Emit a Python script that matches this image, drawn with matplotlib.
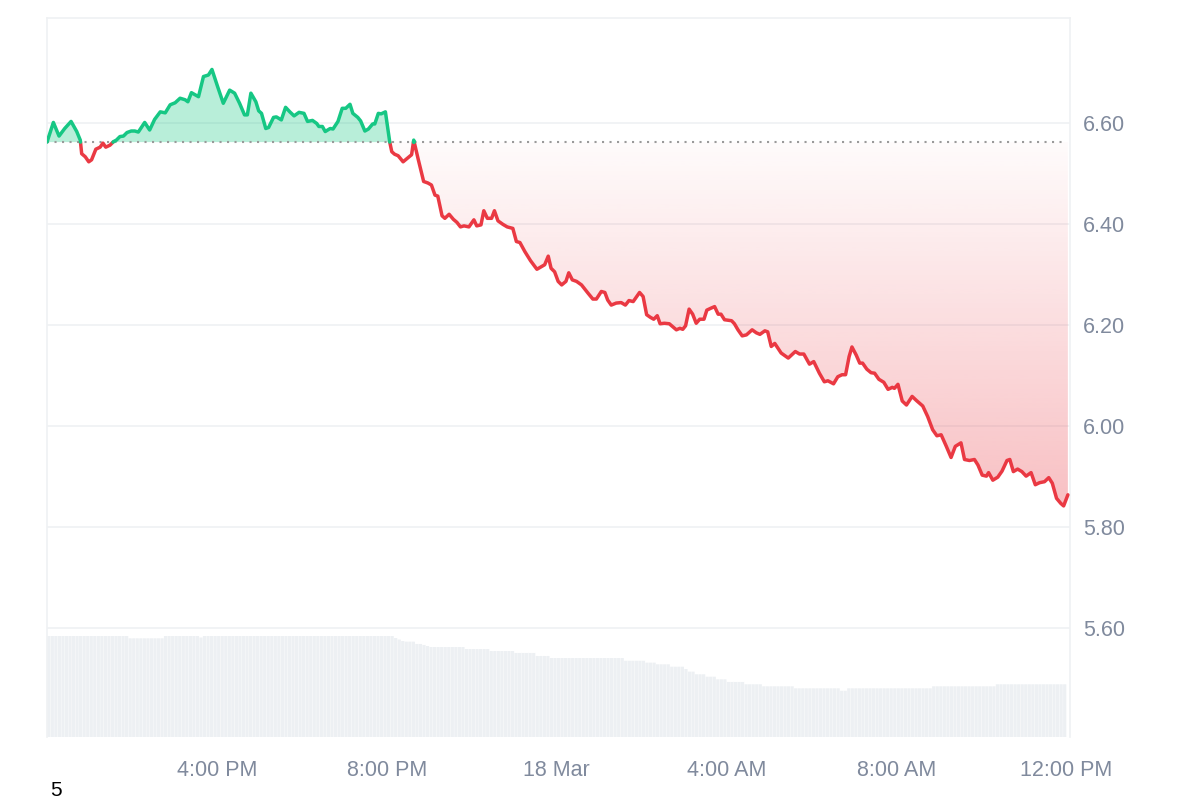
import numpy as np
import matplotlib
matplotlib.use("Agg")
import matplotlib.pyplot as plt
from matplotlib.patches import Polygon
from matplotlib.colors import to_rgb

# ---------------- data ----------------
# minutes since 17 Mar 12:00 PM
minutes = [0, 9, 17, 25, 34, 42, 47, 49, 54, 59, 63, 69, 75, 79, 83, 89, 94, 98, 103, 108,
           113, 119, 124, 129, 138, 145, 152, 160, 167, 174, 181, 188, 195, 199, 204, 214, 221, 228, 233, 241,
           249, 258, 265, 272, 279, 283, 288, 295, 299, 303, 309, 313, 320, 324, 331, 337, 343, 349, 356, 363,
           368, 375, 381, 384, 389, 393, 400, 404, 411, 417, 422, 428, 432, 439, 443, 449, 454, 460, 463, 468,
           472, 478, 484, 487, 491, 496, 503, 509, 515, 518, 524, 532, 538, 543, 548, 552, 558, 562, 568, 574,
           579, 584, 589, 596, 603, 607, 613, 617, 622, 628, 632, 637, 644, 650, 658, 663, 668, 675, 683, 692,
           698, 703, 708, 712, 717, 722, 727, 733, 737, 742, 748, 755, 764, 771, 776, 783, 788, 792, 797, 804,
           811, 817, 822, 828, 832, 837, 842, 847, 852, 857, 862, 866, 872, 879, 884, 889, 894, 898, 902, 907,
           912, 917, 922, 928, 932, 938, 943, 948, 952, 957, 967, 971, 976, 982, 988, 996, 1002, 1007, 1014, 1018,
           1023, 1028, 1037, 1047, 1057, 1063, 1069, 1077, 1083, 1091, 1098, 1103, 1111, 1117, 1123, 1128, 1133, 1137, 1143, 1148,
           1152, 1158, 1164, 1169, 1175, 1182, 1188, 1194, 1197, 1202, 1208, 1214, 1222, 1228, 1237, 1244, 1251, 1257, 1263, 1270,
           1277, 1283, 1291, 1296, 1303, 1310, 1315, 1321, 1327, 1330, 1336, 1343, 1349, 1356, 1360, 1365, 1371, 1377, 1383, 1390,
           1396, 1402, 1409, 1415, 1420, 1426, 1432, 1436, 1442]
prices = [6.562, 6.601, 6.574, 6.589, 6.603, 6.583, 6.566, 6.539, 6.533, 6.523, 6.527, 6.548, 6.552, 6.560, 6.552, 6.556, 6.563, 6.566, 6.573, 6.574,
          6.581, 6.584, 6.584, 6.582, 6.601, 6.586, 6.607, 6.622, 6.620, 6.636, 6.640, 6.649, 6.646, 6.642, 6.660, 6.652, 6.692, 6.695, 6.706, 6.672,
          6.639, 6.665, 6.659, 6.639, 6.616, 6.616, 6.659, 6.642, 6.624, 6.619, 6.589, 6.591, 6.611, 6.612, 6.606, 6.631, 6.622, 6.614, 6.621, 6.619,
          6.603, 6.605, 6.599, 6.593, 6.593, 6.583, 6.589, 6.588, 6.603, 6.629, 6.629, 6.637, 6.619, 6.611, 6.604, 6.584, 6.588, 6.598, 6.598, 6.619,
          6.618, 6.622, 6.563, 6.543, 6.538, 6.535, 6.523, 6.530, 6.537, 6.566, 6.530, 6.484, 6.481, 6.477, 6.457, 6.455, 6.416, 6.411, 6.419, 6.409,
          6.403, 6.394, 6.396, 6.394, 6.408, 6.396, 6.398, 6.426, 6.411, 6.411, 6.426, 6.406, 6.399, 6.394, 6.391, 6.365, 6.363, 6.345, 6.327, 6.310,
          6.315, 6.319, 6.336, 6.312, 6.305, 6.286, 6.279, 6.286, 6.303, 6.289, 6.286, 6.279, 6.263, 6.251, 6.251, 6.266, 6.264, 6.249, 6.239, 6.243,
          6.244, 6.239, 6.248, 6.246, 6.254, 6.264, 6.256, 6.220, 6.215, 6.211, 6.218, 6.202, 6.203, 6.202, 6.196, 6.190, 6.193, 6.191, 6.198, 6.231,
          6.221, 6.203, 6.211, 6.211, 6.229, 6.233, 6.236, 6.221, 6.221, 6.210, 6.208, 6.202, 6.190, 6.178, 6.180, 6.190, 6.184, 6.181, 6.188, 6.186,
          6.157, 6.163, 6.144, 6.134, 6.147, 6.142, 6.142, 6.122, 6.127, 6.104, 6.087, 6.089, 6.083, 6.097, 6.101, 6.101, 6.137, 6.156, 6.140, 6.124,
          6.124, 6.112, 6.105, 6.104, 6.092, 6.086, 6.072, 6.076, 6.074, 6.082, 6.049, 6.041, 6.058, 6.050, 6.039, 6.018, 5.992, 5.980, 5.982, 5.960,
          5.937, 5.959, 5.966, 5.933, 5.931, 5.933, 5.922, 5.902, 5.900, 5.907, 5.892, 5.898, 5.910, 5.931, 5.933, 5.909, 5.914, 5.909, 5.900, 5.907,
          5.883, 5.887, 5.889, 5.897, 5.886, 5.856, 5.846, 5.841, 5.863]
open_price = 6.562

# 5-minute volume bars (relative), given as plateaus
vol_levels = [1.000, 0.977, 1.000, 0.985, 1.000, 0.980, 0.965, 0.950, 0.944, 0.921, 0.911, 0.901,
              0.891, 0.871, 0.851, 0.832, 0.802, 0.782, 0.755, 0.736, 0.720, 0.696, 0.673, 0.647,
              0.621, 0.597, 0.571, 0.545, 0.522, 0.502, 0.482, 0.458, 0.482, 0.502, 0.522]
vol_counts = [23, 10, 10, 1, 54, 1, 1, 1, 3, 2, 1, 1,
              10, 7, 7, 6, 4, 21, 6, 3, 4, 4, 1, 2,
              3, 3, 3, 5, 5, 9, 13, 2, 24, 18, 20]
bar_minutes = 5

x_tick_minutes = [240, 480, 720, 960, 1200, 1440]
x_tick_labels = ["4:00 PM", "8:00 PM", "18 Mar", "4:00 AM", "8:00 AM", "12:00 PM"]
y_ticks = [5.60, 5.80, 6.00, 6.20, 6.40, 6.60]

# ---------------- style ----------------
GREEN = "#16c784"
RED = "#ea3943"
GRID = "#eff1f3"
LABEL = "#808a9d"
VOL = "#edf0f3"
plt.rcParams['font.family'] = ['Liberation Sans', 'DejaVu Sans']

XLIM = (0, 1445)
YLIM = (5.383, 6.808)

fig = plt.figure(figsize=(12, 8), dpi=100)
pos = [47 / 1200, 63 / 800, 1023 / 1200, 719 / 800]
axv = fig.add_axes(pos)
ax = fig.add_axes(pos)
ax.patch.set_visible(False)

# volume
vol = np.repeat(vol_levels, vol_counts)
vt = np.arange(len(vol)) * bar_minutes + bar_minutes / 2
bars = axv.bar(vt, vol, width=bar_minutes * 0.9, color=VOL, linewidth=0)
for b in bars:
    b.set_snap(False)
axv.set_xlim(XLIM)
axv.set_ylim(0, 719 / 101)
axv.axis('off')

# price with baseline crossings
t = np.asarray(minutes, float)
p = np.asarray(prices, float)
tt, pp = [t[0]], [p[0]]
for i in range(1, len(t)):
    d0, d1 = p[i - 1] - open_price, p[i] - open_price
    if d0 * d1 < 0:
        f = d0 / (d0 - d1)
        tt.append(t[i - 1] + f * (t[i] - t[i - 1]))
        pp.append(open_price)
    tt.append(t[i])
    pp.append(p[i])
tt = np.array(tt)
pp = np.array(pp)

# green fill
ax.fill_between(tt, open_price, pp, where=pp >= open_price, interpolate=True,
                color=GREEN, alpha=0.3, linewidth=0, zorder=2)

# red gradient fill
low = np.minimum(pp, open_price)
verts = [(tt[0], open_price)] + list(zip(tt, low)) + [(tt[-1], open_price)]
poly = Polygon(verts, closed=True, facecolor='none', edgecolor='none')
ax.add_patch(poly)
pmin = low.min()
n = 256
grad = np.zeros((n, 1, 4))
grad[:, 0, :3] = to_rgb(RED)
grad[:, 0, 3] = np.linspace(0.32, 0.02, n)
im = ax.imshow(grad, extent=[tt[0], tt[-1], pmin, open_price], origin='lower',
               aspect='auto', interpolation='bilinear', zorder=2)
im.set_clip_path(poly)

# baseline
ax.plot([tt[0], tt[-1] - 4], [open_price, open_price], color='#9a9a9a', lw=1.5,
        linestyle=(0, (1, 2.6)), zorder=3)

# lines
g = np.where(pp >= open_price, pp, np.nan)
r = np.where(pp <= open_price, pp, np.nan)
ax.plot(tt, r, color=RED, lw=2.5, solid_joinstyle='round', solid_capstyle='round', zorder=4)
ax.plot(tt, g, color=GREEN, lw=2.5, solid_joinstyle='round', solid_capstyle='round', zorder=5)

ax.set_xlim(XLIM)
ax.set_ylim(YLIM)
ax.set_yticks(y_ticks)
ax.set_yticklabels([f"{v:.2f}" for v in y_ticks])
ax.set_xticks(x_tick_minutes)
ax.set_xticklabels(x_tick_labels)
ax.yaxis.tick_right()
ax.yaxis.grid(True, color=GRID, lw=1.2)
ax.set_axisbelow(True)
ax.tick_params(axis='y', length=0, pad=9.5, labelsize=15.5, labelcolor=LABEL)
ax.tick_params(axis='x', length=0, pad=16.5, labelsize=15.5, labelcolor=LABEL)
for s in ['top', 'left', 'right']:
    ax.spines[s].set_color(GRID)
    ax.spines[s].set_linewidth(1.2)
ax.spines['bottom'].set_visible(False)

fig.text(50 / 1200, 9 / 800, "5", fontsize=15, color='black', ha='left', va='center')

fig.savefig("out.png", dpi=100)
